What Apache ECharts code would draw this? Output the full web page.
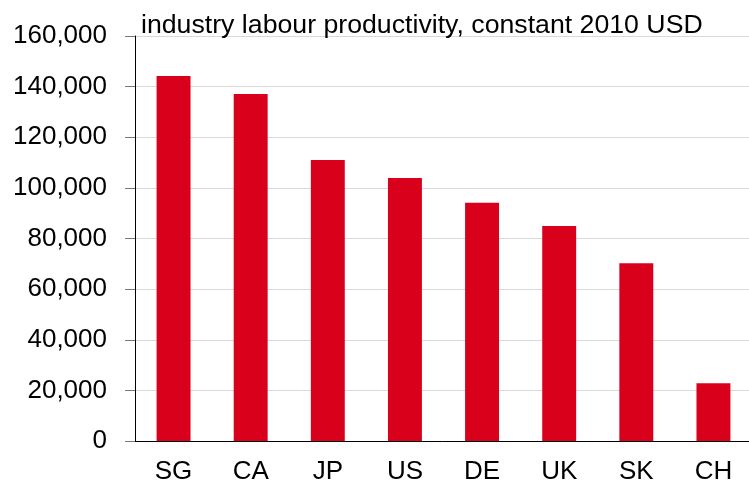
<!DOCTYPE html>
<html>
<head>
<meta charset="utf-8">
<script src="https://cdn.jsdelivr.net/npm/echarts@6/dist/echarts.min.js"></script>
<style>
  html, body { margin: 0; padding: 0; background: #fff; }
  #chart { width: 749px; height: 483px; }
</style>
</head>
<body>
<div id="chart"></div>
<script>
const countries = ["SG", "CA", "JP", "US", "DE", "UK", "SK", "CH"]
const productivity = [144200, 137100, 111000, 103900, 94100, 84900, 70200, 22800]
const titleText = "industry labour productivity, constant 2010 USD"

const chart = echarts.init(document.getElementById("chart"))
const font = "Liberation Sans, Arial, sans-serif"

chart.setOption({
  animation: false,
  title: {
    text: titleText,
    left: 136,
    top: 7,
    textStyle: { fontFamily: font, fontSize: 26.7, fontWeight: "normal", color: "#000" }
  },
  grid: { left: 135, right: -3, top: 36, bottom: 42, outerBoundsMode: "none" },
  xAxis: {
    type: "category",
    data: countries,
    axisLine: { lineStyle: { color: "#000", width: 1 } },
    axisTick: { length: 8, lineStyle: { color: "#333" } },
    axisLabel: { fontFamily: font, fontSize: 26, color: "#000", margin: 18 }
  },
  yAxis: {
    type: "value",
    min: 0,
    max: 160000,
    interval: 20000,
    axisLine: { show: true, lineStyle: { color: "#000", width: 1 } },
    axisTick: { show: true, length: 10, lineStyle: { color: "#777" } },
    splitLine: { lineStyle: { color: "#d9d9d9" } },
    axisLabel: {
      fontFamily: font, fontSize: 26, color: "#000", margin: 28,
      formatter: v => v.toLocaleString("en-US")
    }
  },
  series: [
    {
      type: "bar",
      data: productivity,
      barWidth: "44%",
      itemStyle: { color: "#d9001b" }
    }
  ]
})
</script>
</body>
</html>
